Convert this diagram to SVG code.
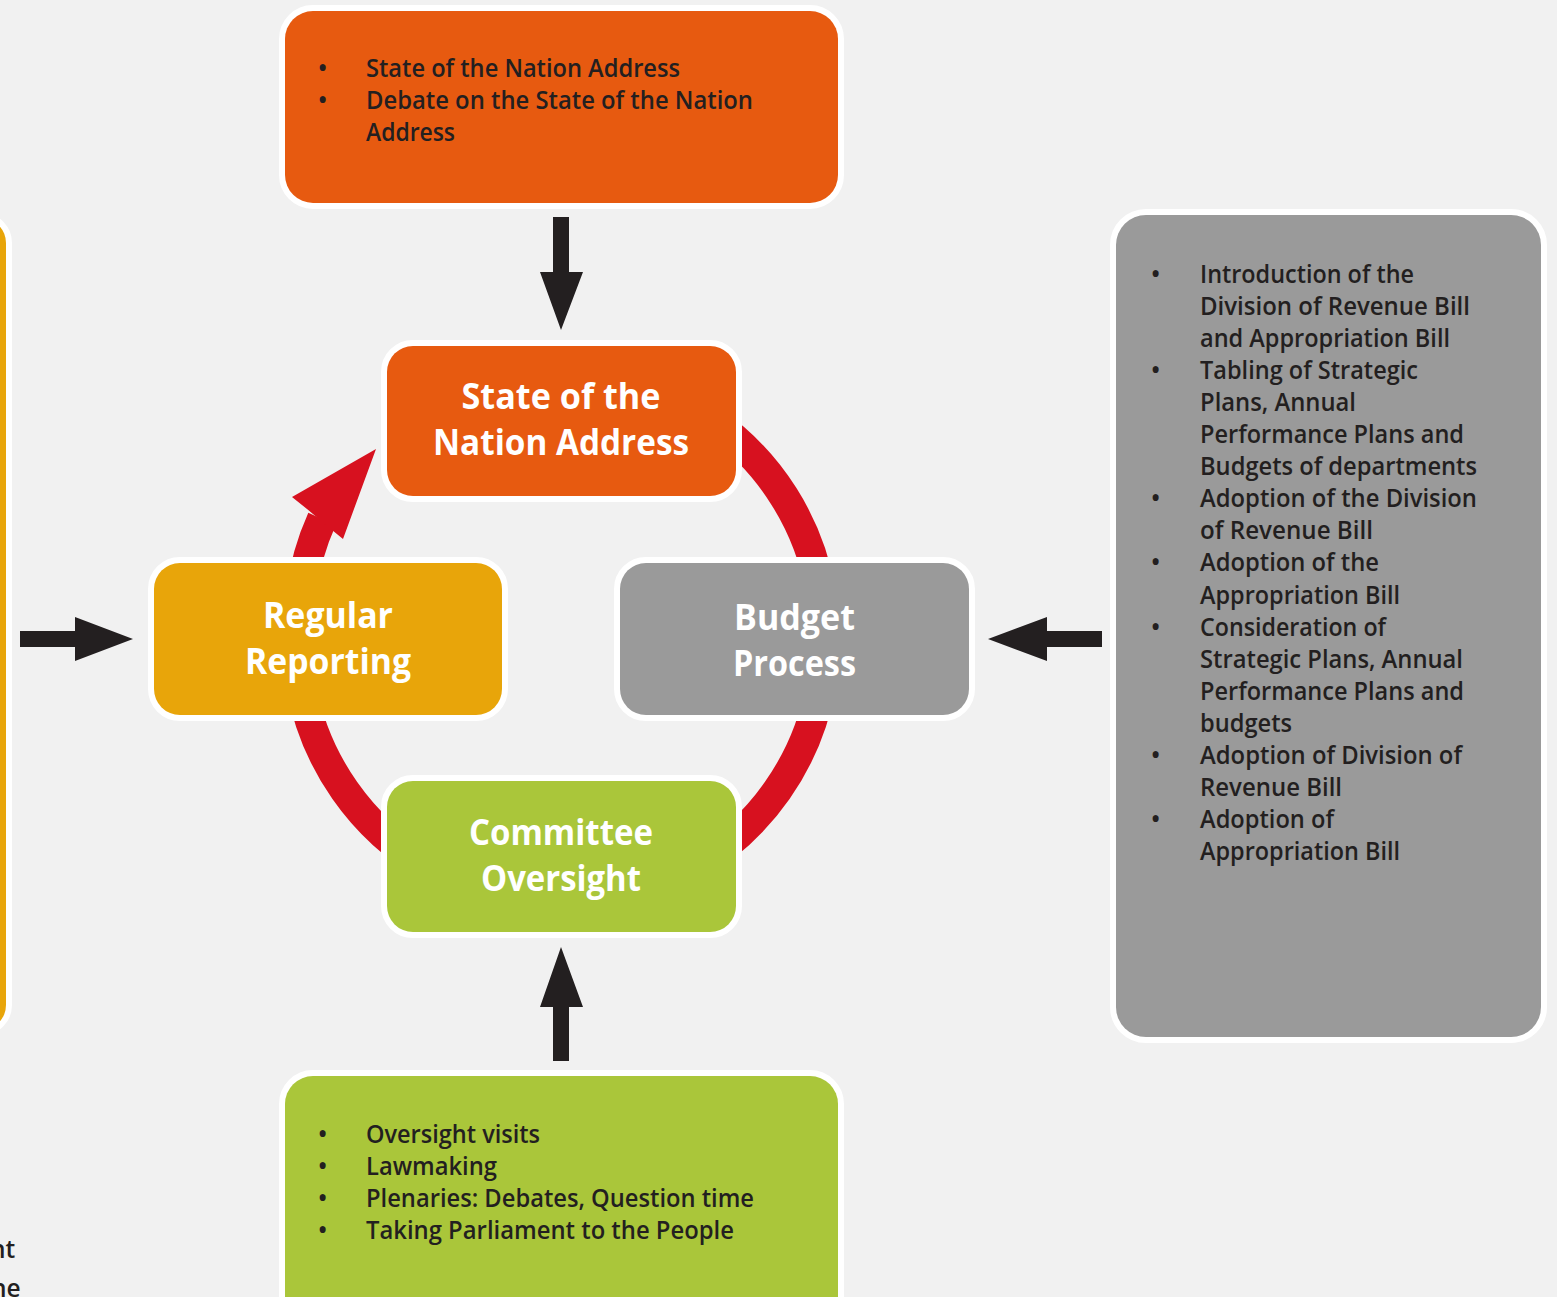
<svg xmlns="http://www.w3.org/2000/svg" width="1557" height="1297" viewBox="0 0 1557 1297">
<defs>
<style>
.box{stroke:#ffffff;stroke-width:12;paint-order:stroke}
.t{font-family:"Open Sans","Noto Sans",sans-serif;font-size:24.5px;font-weight:600;fill:#231f20}
.h{font-family:"Open Sans","Noto Sans",sans-serif;font-size:36px;font-weight:700;fill:#ffffff;text-anchor:middle}
.ring{fill:none;stroke:#d7111f;stroke-width:30}
.blk{fill:#231f20}
</style>
</defs>
<rect x="0" y="0" width="1557" height="1297" fill="#f1f1f1"/>

<g id="connectors">
<path class="ring" d="M 712.4 421.3 A 264 264 0 0 1 821.0 593.2"/>
<path class="ring" d="M 821.0 684.8 A 264 264 0 0 1 693.0 867.6"/>
<path class="ring" d="M 429.0 867.6 A 264 264 0 0 1 301.0 684.8"/>
<path class="ring" d="M 301.0 593.2 A 264 264 0 0 1 322.0 519.0"/>
<polygon fill="#d7111f" points="376,449 292,497 307,509 332,530 343,539"/>
<polygon class="blk" points="553,217 569,217 569,272 583,272 561,330 540,272 553,272"/>
<polygon class="blk" points="553,1061 569,1061 569,1007 583,1007 561,947 540,1007 553,1007"/>
<polygon class="blk" points="1102,631 1102,647 1047,647 1047,661 988,639 1047,617 1047,631"/>
<polygon class="blk" points="20,631 20,647 75,647 75,661 133,639 75,617 75,631"/>
</g>

<g id="left-box">
<rect class="box" x="-40" y="219" width="46" height="810" rx="24" fill="#e8a50a"/>
</g>

<g id="sona-list">
<rect class="box" x="285" y="11" width="553" height="192" rx="28" fill="#e75a10"/>
<text class="t" x="318" y="77">•</text>
<text class="t" x="318" y="109">•</text>
<text class="t" x="366" y="77" textLength="314" lengthAdjust="spacingAndGlyphs">State of the Nation Address</text>
<text class="t" x="366" y="109" textLength="387" lengthAdjust="spacingAndGlyphs">Debate on the State of the Nation</text>
<text class="t" x="366" y="141" textLength="89" lengthAdjust="spacingAndGlyphs">Address</text>
</g>

<g id="budget-list">
<rect class="box" x="1116" y="215" width="425" height="822" rx="30" fill="#9a9a9a"/>
<g class="t">
<text x="1151" y="283">•</text>
<text x="1151" y="379">•</text>
<text x="1151" y="507">•</text>
<text x="1151" y="571">•</text>
<text x="1151" y="636">•</text>
<text x="1151" y="764">•</text>
<text x="1151" y="828">•</text>
<text x="1200" y="283" textLength="214" lengthAdjust="spacingAndGlyphs">Introduction of the</text>
<text x="1200" y="315" textLength="270" lengthAdjust="spacingAndGlyphs">Division of Revenue Bill</text>
<text x="1200" y="347" textLength="250" lengthAdjust="spacingAndGlyphs">and Appropriation Bill</text>
<text x="1200" y="379" textLength="218" lengthAdjust="spacingAndGlyphs">Tabling of Strategic</text>
<text x="1200" y="411" textLength="156" lengthAdjust="spacingAndGlyphs">Plans, Annual</text>
<text x="1200" y="443" textLength="264" lengthAdjust="spacingAndGlyphs">Performance Plans and</text>
<text x="1200" y="475" textLength="277" lengthAdjust="spacingAndGlyphs">Budgets of departments</text>
<text x="1200" y="507" textLength="277" lengthAdjust="spacingAndGlyphs">Adoption of the Division</text>
<text x="1200" y="539" textLength="173" lengthAdjust="spacingAndGlyphs">of Revenue Bill</text>
<text x="1200" y="571" textLength="179" lengthAdjust="spacingAndGlyphs">Adoption of the</text>
<text x="1200" y="604" textLength="200" lengthAdjust="spacingAndGlyphs">Appropriation Bill</text>
<text x="1200" y="636" textLength="186" lengthAdjust="spacingAndGlyphs">Consideration of</text>
<text x="1200" y="668" textLength="263" lengthAdjust="spacingAndGlyphs">Strategic Plans, Annual</text>
<text x="1200" y="700" textLength="264" lengthAdjust="spacingAndGlyphs">Performance Plans and</text>
<text x="1200" y="732" textLength="92" lengthAdjust="spacingAndGlyphs">budgets</text>
<text x="1200" y="764" textLength="262" lengthAdjust="spacingAndGlyphs">Adoption of Division of</text>
<text x="1200" y="796" textLength="142" lengthAdjust="spacingAndGlyphs">Revenue Bill</text>
<text x="1200" y="828" textLength="134" lengthAdjust="spacingAndGlyphs">Adoption of</text>
<text x="1200" y="860" textLength="200" lengthAdjust="spacingAndGlyphs">Appropriation Bill</text>
</g>
</g>

<g id="oversight-list">
<rect class="box" x="285" y="1076" width="553" height="260" rx="28" fill="#aac63a"/>
<g class="t">
<text x="318" y="1143">•</text>
<text x="318" y="1175">•</text>
<text x="318" y="1207">•</text>
<text x="318" y="1239">•</text>
<text x="366" y="1143" textLength="174" lengthAdjust="spacingAndGlyphs">Oversight visits</text>
<text x="366" y="1175" textLength="131" lengthAdjust="spacingAndGlyphs">Lawmaking</text>
<text x="366" y="1207" textLength="388" lengthAdjust="spacingAndGlyphs">Plenaries: Debates, Question time</text>
<text x="366" y="1239" textLength="368" lengthAdjust="spacingAndGlyphs">Taking Parliament to the People</text>
</g>
</g>

<g id="node-sona">
<rect class="box" x="387" y="346" width="349" height="150" rx="26" fill="#e75a10"/>
<text class="h" x="561" y="409" textLength="199" lengthAdjust="spacingAndGlyphs">State of the</text>
<text class="h" x="561" y="455" textLength="256" lengthAdjust="spacingAndGlyphs">Nation Address</text>
</g>

<g id="node-regular">
<rect class="box" x="154" y="563" width="348" height="152" rx="26" fill="#e8a50a"/>
<text class="h" x="328" y="628" textLength="130" lengthAdjust="spacingAndGlyphs">Regular</text>
<text class="h" x="328" y="674" textLength="166" lengthAdjust="spacingAndGlyphs">Reporting</text>
</g>

<g id="node-budget">
<rect class="box" x="620" y="563" width="349" height="152" rx="26" fill="#9a9a9a"/>
<text class="h" x="794.5" y="630" textLength="121" lengthAdjust="spacingAndGlyphs">Budget</text>
<text class="h" x="794.5" y="676" textLength="123" lengthAdjust="spacingAndGlyphs">Process</text>
</g>

<g id="node-committee">
<rect class="box" x="387" y="781" width="349" height="151" rx="26" fill="#aac63a"/>
<text class="h" x="561" y="845" textLength="184" lengthAdjust="spacingAndGlyphs">Committee</text>
<text class="h" x="561" y="891" textLength="160" lengthAdjust="spacingAndGlyphs">Oversight</text>
</g>

<g id="edge-text">
<text class="t" x="-10" y="1258">nt</text>
<text class="t" x="-9" y="1297">ne</text>
</g>
</svg>
